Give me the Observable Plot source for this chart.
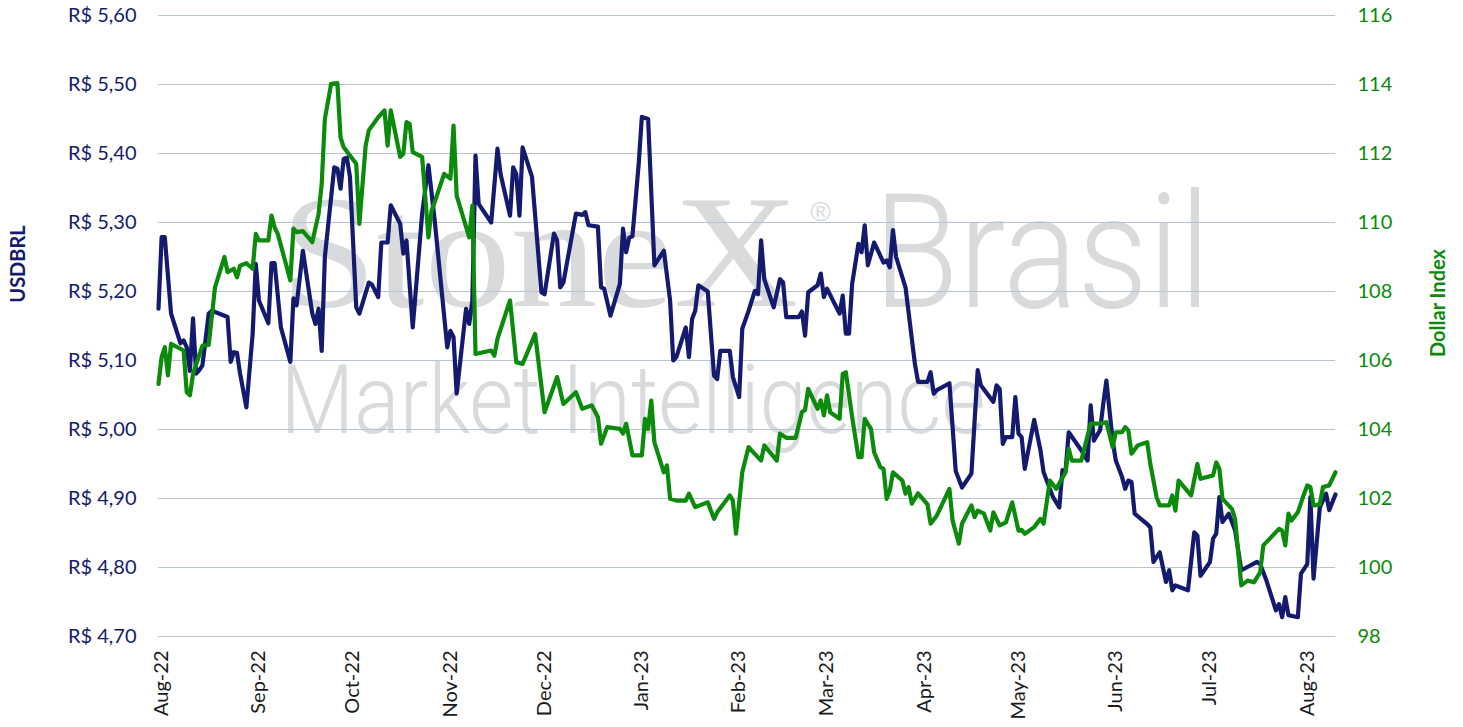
<!DOCTYPE html>
<html>
<head>
<meta charset="utf-8">
<script src="https://cdn.jsdelivr.net/npm/d3@7"></script>
<script src="https://cdn.jsdelivr.net/npm/@observablehq/plot@0.6"></script>
<style>
html, body { margin: 0; padding: 0; background: #ffffff; }
#chart { width: 1463px; height: 727px; }
</style>
</head>
<body>
<div id="chart"></div>
<script>
// ---------- DATA ----------
const usdbrlDates = [
"2022-08-01","2022-08-02","2022-08-03","2022-08-05","2022-08-08","2022-08-09","2022-08-10","2022-08-11","2022-08-12","2022-08-13",
"2022-08-14","2022-08-15","2022-08-17","2022-08-18","2022-08-23","2022-08-24","2022-08-25","2022-08-26","2022-08-27","2022-08-29",
"2022-08-31","2022-09-01","2022-09-02","2022-09-05","2022-09-06","2022-09-07","2022-09-09","2022-09-12","2022-09-13","2022-09-14",
"2022-09-16","2022-09-19","2022-09-20","2022-09-21","2022-09-22","2022-09-23","2022-09-26","2022-09-27","2022-09-28","2022-09-29",
"2022-09-30","2022-10-01","2022-10-03","2022-10-04","2022-10-07","2022-10-08","2022-10-10","2022-10-11","2022-10-13","2022-10-14",
"2022-10-17","2022-10-18","2022-10-19","2022-10-21","2022-10-24","2022-10-26","2022-10-28","2022-11-01","2022-11-02","2022-11-03",
"2022-11-04","2022-11-07","2022-11-08","2022-11-09","2022-11-10","2022-11-11","2022-11-15","2022-11-17","2022-11-18","2022-11-21",
"2022-11-22","2022-11-23","2022-11-24","2022-11-25","2022-11-28","2022-12-01","2022-12-02","2022-12-05","2022-12-06","2022-12-07",
"2022-12-08","2022-12-12","2022-12-14","2022-12-15","2022-12-16","2022-12-19","2022-12-20","2022-12-21","2022-12-23","2022-12-26",
"2022-12-27","2022-12-28","2022-12-29","2022-12-30","2023-01-01","2023-01-02","2023-01-04","2023-01-06","2023-01-09","2023-01-11",
"2023-01-12","2023-01-13","2023-01-16","2023-01-17","2023-01-18","2023-01-19","2023-01-20","2023-01-23","2023-01-25","2023-01-26",
"2023-01-27","2023-01-30","2023-01-31","2023-02-02","2023-02-03","2023-02-05","2023-02-07","2023-02-08","2023-02-09","2023-02-10",
"2023-02-13","2023-02-15","2023-02-16","2023-02-17","2023-02-21","2023-02-22","2023-02-23","2023-02-24","2023-02-27","2023-02-28",
"2023-03-01","2023-03-02","2023-03-06","2023-03-07","2023-03-08","2023-03-09","2023-03-10","2023-03-12","2023-03-13","2023-03-14",
"2023-03-15","2023-03-17","2023-03-20","2023-03-21","2023-03-22","2023-03-23","2023-03-24","2023-03-27","2023-03-30","2023-03-31",
"2023-04-03","2023-04-04","2023-04-05","2023-04-06","2023-04-10","2023-04-12","2023-04-14","2023-04-17","2023-04-19","2023-04-20",
"2023-04-22","2023-04-24","2023-04-25","2023-04-26","2023-04-27","2023-04-28","2023-04-30","2023-05-01","2023-05-02","2023-05-03",
"2023-05-04","2023-05-07","2023-05-09","2023-05-10","2023-05-13","2023-05-15","2023-05-16","2023-05-17","2023-05-18","2023-05-22",
"2023-05-24","2023-05-25","2023-05-26","2023-05-28","2023-05-29","2023-05-30","2023-06-01","2023-06-02","2023-06-04","2023-06-05",
"2023-06-06","2023-06-07","2023-06-08","2023-06-12","2023-06-13","2023-06-14","2023-06-16","2023-06-18","2023-06-19","2023-06-20",
"2023-06-21","2023-06-25","2023-06-27","2023-06-28","2023-06-29","2023-07-02","2023-07-03","2023-07-04","2023-07-05","2023-07-06",
"2023-07-08","2023-07-10","2023-07-12","2023-07-17","2023-07-18","2023-07-20","2023-07-23","2023-07-24","2023-07-25","2023-07-26",
"2023-07-27","2023-07-30","2023-07-31","2023-08-02","2023-08-03","2023-08-04","2023-08-06","2023-08-08","2023-08-09","2023-08-11"
];
const usdbrlValues = [
5.175,5.279,5.279,5.168,5.125,5.129,5.119,5.085,5.161,5.081,
5.086,5.093,5.168,5.172,5.163,5.098,5.112,5.111,5.081,5.032,
5.139,5.240,5.187,5.154,5.241,5.241,5.148,5.098,5.190,5.180,
5.259,5.168,5.153,5.175,5.114,5.250,5.380,5.378,5.349,5.392,
5.394,5.366,5.177,5.168,5.213,5.210,5.192,5.271,5.271,5.325,
5.298,5.255,5.274,5.148,5.313,5.383,5.303,5.119,5.143,5.134,
5.052,5.175,5.153,5.187,5.397,5.327,5.300,5.407,5.370,5.310,
5.380,5.370,5.310,5.409,5.366,5.199,5.196,5.284,5.274,5.206,
5.213,5.313,5.311,5.315,5.296,5.294,5.206,5.204,5.165,5.211,
5.291,5.257,5.278,5.280,5.385,5.453,5.450,5.238,5.259,5.187,
5.100,5.105,5.148,5.105,5.160,5.172,5.209,5.200,5.078,5.073,
5.114,5.114,5.076,5.047,5.146,5.172,5.201,5.196,5.274,5.218,
5.177,5.218,5.213,5.163,5.163,5.171,5.136,5.199,5.209,5.226,
5.192,5.204,5.168,5.194,5.139,5.139,5.211,5.269,5.257,5.296,
5.238,5.271,5.242,5.245,5.235,5.289,5.250,5.206,5.095,5.069,
5.069,5.083,5.052,5.057,5.067,4.940,4.916,4.936,5.086,5.064,
5.052,5.040,5.064,5.059,4.979,4.989,4.989,5.047,4.994,4.989,
4.943,5.014,4.970,4.938,4.902,4.887,4.941,4.940,4.996,4.970,
4.955,5.035,4.984,4.999,5.037,5.071,4.984,4.955,4.931,4.914,
4.926,4.924,4.878,4.863,4.858,4.808,4.822,4.779,4.796,4.767,
4.774,4.767,4.851,4.846,4.788,4.808,4.842,4.849,4.902,4.866,
4.878,4.854,4.796,4.808,4.805,4.781,4.738,4.747,4.728,4.757,
4.731,4.728,4.791,4.805,4.902,4.784,4.887,4.907,4.883,4.906
];

const dxyDates = [
"2022-08-01","2022-08-02","2022-08-03","2022-08-04","2022-08-05","2022-08-09","2022-08-10","2022-08-11","2022-08-12","2022-08-15",
"2022-08-17","2022-08-19","2022-08-22","2022-08-23","2022-08-25","2022-08-26","2022-08-27","2022-08-29","2022-08-31","2022-09-01",
"2022-09-02","2022-09-05","2022-09-06","2022-09-07","2022-09-08","2022-09-10","2022-09-12","2022-09-13","2022-09-14","2022-09-16",
"2022-09-19","2022-09-21","2022-09-22","2022-09-23","2022-09-25","2022-09-27","2022-09-28","2022-09-29","2022-10-03","2022-10-04",
"2022-10-06","2022-10-07","2022-10-10","2022-10-12","2022-10-13","2022-10-14","2022-10-17","2022-10-18","2022-10-19","2022-10-20",
"2022-10-21","2022-10-24","2022-10-26","2022-10-27","2022-10-28","2022-10-31","2022-11-02","2022-11-03","2022-11-04","2022-11-08",
"2022-11-09","2022-11-10","2022-11-15","2022-11-16","2022-11-17","2022-11-21","2022-11-23","2022-11-25","2022-11-29","2022-12-02",
"2022-12-06","2022-12-08","2022-12-12","2022-12-14","2022-12-17","2022-12-19","2022-12-20","2022-12-22","2022-12-26","2022-12-27",
"2022-12-28","2022-12-30","2023-01-02","2023-01-03","2023-01-04","2023-01-05","2023-01-06","2023-01-09","2023-01-10","2023-01-11",
"2023-01-13","2023-01-16","2023-01-17","2023-01-19","2023-01-23","2023-01-25","2023-01-26","2023-01-30","2023-01-31","2023-02-01",
"2023-02-03","2023-02-05","2023-02-06","2023-02-09","2023-02-10","2023-02-14","2023-02-15","2023-02-17","2023-02-20","2023-02-22",
"2023-02-23","2023-02-24","2023-02-26","2023-02-27","2023-02-28","2023-03-01","2023-03-02","2023-03-03","2023-03-06","2023-03-07",
"2023-03-08","2023-03-10","2023-03-12","2023-03-13","2023-03-14","2023-03-16","2023-03-17","2023-03-19","2023-03-20","2023-03-21",
"2023-03-22","2023-03-23","2023-03-26","2023-03-27","2023-03-28","2023-03-29","2023-03-31","2023-04-03","2023-04-04","2023-04-06",
"2023-04-10","2023-04-11","2023-04-13","2023-04-14","2023-04-17","2023-04-18","2023-04-19","2023-04-21","2023-04-23","2023-04-24",
"2023-04-26","2023-04-28","2023-04-30","2023-05-02","2023-05-03","2023-05-04","2023-05-07","2023-05-09","2023-05-10","2023-05-12",
"2023-05-14","2023-05-17","2023-05-18","2023-05-19","2023-05-22","2023-05-25","2023-05-28","2023-05-30","2023-06-01","2023-06-02",
"2023-06-04","2023-06-05","2023-06-06","2023-06-07","2023-06-09","2023-06-12","2023-06-13","2023-06-15","2023-06-16","2023-06-19",
"2023-06-20","2023-06-21","2023-06-22","2023-06-26","2023-06-28","2023-06-29","2023-07-03","2023-07-04","2023-07-05","2023-07-06",
"2023-07-09","2023-07-10","2023-07-12","2023-07-14","2023-07-16","2023-07-18","2023-07-19","2023-07-21","2023-07-24","2023-07-25",
"2023-07-26","2023-07-27","2023-07-28","2023-07-30","2023-08-01","2023-08-02","2023-08-03","2023-08-04","2023-08-06","2023-08-07",
"2023-08-09","2023-08-11"
];
const dxyValues = [
105.32,106.10,106.39,105.57,106.48,106.29,105.08,104.99,105.61,106.43,
106.45,108.12,109.00,108.56,108.66,108.41,108.75,108.82,108.66,109.67,
109.48,109.48,110.20,109.86,109.67,109.00,108.32,109.82,109.72,109.75,
109.43,110.25,111.12,113.00,114.02,114.04,112.47,112.18,111.70,109.96,
112.23,112.67,113.05,113.25,112.23,113.25,111.90,111.99,112.91,112.86,
112.04,111.90,109.57,110.35,110.59,111.41,111.27,112.81,110.78,109.57,
110.49,106.19,106.29,106.14,106.63,107.74,105.95,105.90,106.77,104.50,
105.52,104.74,105.08,104.60,104.70,104.36,103.59,104.07,104.02,103.88,
104.17,103.25,103.25,104.31,104.02,104.84,103.63,102.76,102.96,101.99,
101.94,101.94,102.14,101.75,101.89,101.41,101.60,102.09,101.94,100.98,
102.76,103.49,103.39,103.10,103.54,103.10,103.88,103.76,103.76,104.50,
104.57,105.18,104.79,104.60,104.84,104.41,104.99,104.50,104.31,105.61,
105.66,104.36,103.20,103.20,104.31,104.02,103.34,102.91,102.86,101.99,
102.23,102.76,102.52,102.14,102.33,101.85,102.15,101.83,101.27,101.51,
102.28,101.36,100.69,101.27,101.80,101.46,101.65,101.56,101.07,101.60,
101.22,101.31,101.89,101.07,101.09,100.98,101.17,101.41,101.27,102.52,
102.28,102.76,103.44,103.10,103.10,104.17,104.17,104.21,103.49,103.92,
103.92,104.07,103.97,103.30,103.54,103.63,103.00,102.04,101.80,101.80,
102.09,101.65,102.52,102.09,103.00,102.57,102.67,103.05,102.86,101.99,
101.70,101.41,99.48,99.62,99.57,99.86,100.64,100.83,101.12,101.07,
100.64,101.56,101.36,101.60,102.14,102.38,102.33,101.80,101.83,102.33,
102.38,102.76
];

const leftTicks = [4.70, 4.80, 4.90, 5.00, 5.10, 5.20, 5.30, 5.40, 5.50, 5.60];
const rightTicks = [98, 100, 102, 104, 106, 108, 110, 112, 114, 116];
const monthTicks = ["2022-08-01","2022-09-01","2022-10-01","2022-11-01","2022-12-01","2023-01-01",
  "2023-02-01","2023-03-01","2023-04-01","2023-05-01","2023-06-01","2023-07-01","2023-08-01"];
const xStart = "2022-08-01", xEnd = "2023-08-11";
const leftTitle = "USDBRL", rightTitle = "Dollar Index";
const wmLines = ["StoneX", "®", "Brasil", "Market Intelligence"];

// ---------- BUILD ----------
const LMIN = leftTicks[0], LMAX = leftTicks[leftTicks.length - 1];
const RMIN = rightTicks[0], RMAX = rightTicks[rightTicks.length - 1];
const toLeft = v => LMIN + (v - RMIN) * (LMAX - LMIN) / (RMAX - RMIN);
const toRight = v => Math.round(RMIN + (v - LMIN) * (RMAX - RMIN) / (LMAX - LMIN));

const usdbrl = usdbrlDates.map((d, i) => ({date: new Date(d), value: usdbrlValues[i]}));
const dxy = dxyDates.map((d, i) => ({date: new Date(d), value: toLeft(dxyValues[i])}));

const NAVY = "#141b6e", GREEN = "#0b8a0b", GRID = "#b7c2d5", WM = "#d9dadc";
const FONT = "Lato, 'Open Sans', sans-serif";
const WMSANS = "Roboto, Lato, sans-serif";

const chart = Plot.plot({
  width: 1463,
  height: 727,
  marginLeft: 158,
  marginRight: 128,
  marginTop: 15,
  marginBottom: 91,
  style: {fontFamily: FONT, fontSize: "20px", background: "#ffffff", overflow: "visible"},
  x: {type: "utc", domain: [new Date(xStart), new Date(xEnd)]},
  y: {domain: [LMIN, LMAX]},
  marks: [
    // watermark
    Plot.text([wmLines[0]], {frameAnchor: "top-left", dx: 122, dy: 290, textAnchor: "start", lineAnchor: "bottom",
      fontFamily: "'Liberation Serif', 'DejaVu Serif', serif", fontSize: 160, fill: WM}),
    Plot.text([wmLines[1]], {frameAnchor: "top-left", dx: 662, dy: 197, textAnchor: "middle", lineAnchor: "middle",
      fontFamily: "'Liberation Sans', sans-serif", fontSize: 28, fill: WM}),
    Plot.text([wmLines[2]], {frameAnchor: "top-left", dx: 715, dy: 291, textAnchor: "start", lineAnchor: "bottom",
      fontFamily: WMSANS, fontWeight: 300, fontSize: 159, fill: WM}),
    Plot.text([wmLines[3]], {frameAnchor: "top-left", dx: 122, dy: 417, textAnchor: "start", lineAnchor: "bottom",
      fontFamily: WMSANS, fontWeight: 300, fontSize: 96, fill: WM}),
    // grid
    Plot.gridY(leftTicks, {stroke: GRID, strokeOpacity: 1, strokeWidth: 1}),
    // axes
    Plot.axisY(leftTicks, {anchor: "left", tickSize: 0, tickPadding: 22, label: null,
      tickFormat: v => "R$ " + v.toFixed(2).replace(".", ","), fill: NAVY}),
    Plot.axisY(rightTicks.map(toLeft), {anchor: "right", tickSize: 0, tickPadding: 22, label: null,
      tickFormat: v => String(toRight(v)), fill: GREEN}),
    Plot.axisX(monthTicks.map(d => new Date(d)), {anchor: "bottom", tickSize: 0, tickPadding: 14, tickRotate: -90,
      label: null, tickFormat: d3.utcFormat("%b-%y"), fill: "#1a1a1a", dx: 3}),
    // series
    Plot.line(usdbrl, {x: "date", y: "value", stroke: NAVY, strokeWidth: 4.2, strokeLinejoin: "round"}),
    Plot.line(dxy, {x: "date", y: "value", stroke: GREEN, strokeWidth: 4.2, strokeLinejoin: "round"}),
    // titles
    Plot.text([leftTitle], {frameAnchor: "left", dx: -140, dy: -62, rotate: -90, textAnchor: "middle",
      fill: NAVY, fontWeight: "bold", fontSize: 20}),
    Plot.text([rightTitle], {frameAnchor: "right", dx: 103, dy: -23, rotate: -90, textAnchor: "middle",
      fill: GREEN, fontWeight: "bold", fontSize: 20})
  ]
});

// stretch watermark words to their printed widths
const wmWidths = {"StoneX": 518, "Brasil": 337, "Market Intelligence": 705};
chart.querySelectorAll("text").forEach(t => {
  const w = wmWidths[t.textContent];
  if (w) { t.setAttribute("textLength", w); t.setAttribute("lengthAdjust", "spacingAndGlyphs"); }
});

document.getElementById("chart").appendChild(chart);
</script>
</body>
</html>
